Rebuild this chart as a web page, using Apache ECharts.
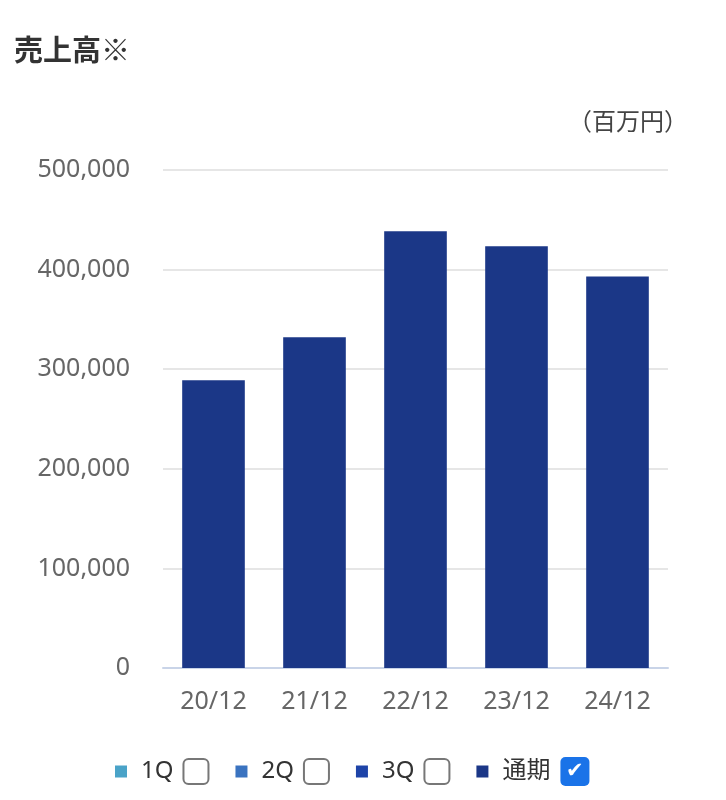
<!DOCTYPE html>
<html><head><meta charset="utf-8">
<script src="https://cdn.jsdelivr.net/npm/echarts@6/dist/echarts.min.js"></script>
<style>html,body{margin:0;padding:0;background:#fff}#c{width:726px;height:800px}</style>
</head><body><div id="c"></div>
<script>
const categories = ['20/12','21/12','22/12','23/12','24/12'];
const seriesNames = ['1Q','2Q','3Q','通期'];
const seriesColors = ['#4aa3c8','#3a73c0','#1e44a8','#1b3787'];
const q1Values = [];
const q2Values = [];
const q3Values = [];
const annualValues = [289000, 332000, 438500, 423400, 393000];
const yTicks = [0, 100000, 200000, 300000, 400000, 500000];
const checked = {'1Q':false,'2Q':false,'3Q':false,'通期':true};

const FONT = "'Noto Sans', 'Noto Sans CJK JP', sans-serif";
const chart = echarts.init(document.getElementById('c'));
const dataSets = [q1Values, q2Values, q3Values, annualValues];
chart.setOption({
  animation:false,
  title:[
    {text:'売上高※', left:9, top:30, textStyle:{fontFamily:"'Noto Sans CJK JP', sans-serif", fontSize:29, fontWeight:'bold', color:'#333'}},
    {text:'（百万円）', right:33, top:104, textStyle:{fontFamily:"'Noto Sans CJK JP', sans-serif", fontSize:24, fontWeight:'normal', color:'#444'}}
  ],
  grid:{left:163, right:58, top:170, bottom:132},
  legend:{
    left:110, top:752, itemWidth:12, itemHeight:12, itemGap:26, icon:'rect',
    selectedMode:false,
    data: seriesNames.map((n,i)=>({name:n, itemStyle:{color:seriesColors[i]}})),
    formatter: n => '{n|' + n + '}' + (checked[n] ? '{c|✔}' : '{u| }'),
    textStyle:{
      fontFamily:FONT, fontSize:24, color:'#333',
      rich:{
        n:{fontFamily:FONT, fontSize:24, color:'#333', padding:[0,10,0,9]},
        u:{width:25, height:25, borderColor:'#777', borderWidth:2, borderRadius:5},
        c:{width:29, height:29, backgroundColor:'#1a73e8', borderRadius:5, color:'#fff', align:'center', fontSize:21, fontFamily:'DejaVu Sans', lineHeight:29}
      }
    }
  },
  xAxis:{
    type:'category', data:categories,
    axisLine:{lineStyle:{color:'#c9d4e8', width:2}},
    axisTick:{show:false},
    axisLabel:{color:'#666', fontFamily:FONT, fontSize:25, margin:21}
  },
  yAxis:{
    type:'value', min:0, max:500000, interval:100000,
    axisLine:{show:false}, axisTick:{show:false},
    splitLine:{lineStyle:{color:'#e6e6e6', width:2}},
    axisLabel:{color:'#666', fontFamily:FONT, fontSize:25, margin:33,
      formatter: v => yTicks.includes(v) ? v.toLocaleString('en-US') : ''}
  },
  series: seriesNames.map((n,i)=>({
    name:n, type:'bar', data:dataSets[i], barWidth:'62%', barGap:'-100%',
    itemStyle:{color:seriesColors[i]}
  }))
});
</script></body></html>
